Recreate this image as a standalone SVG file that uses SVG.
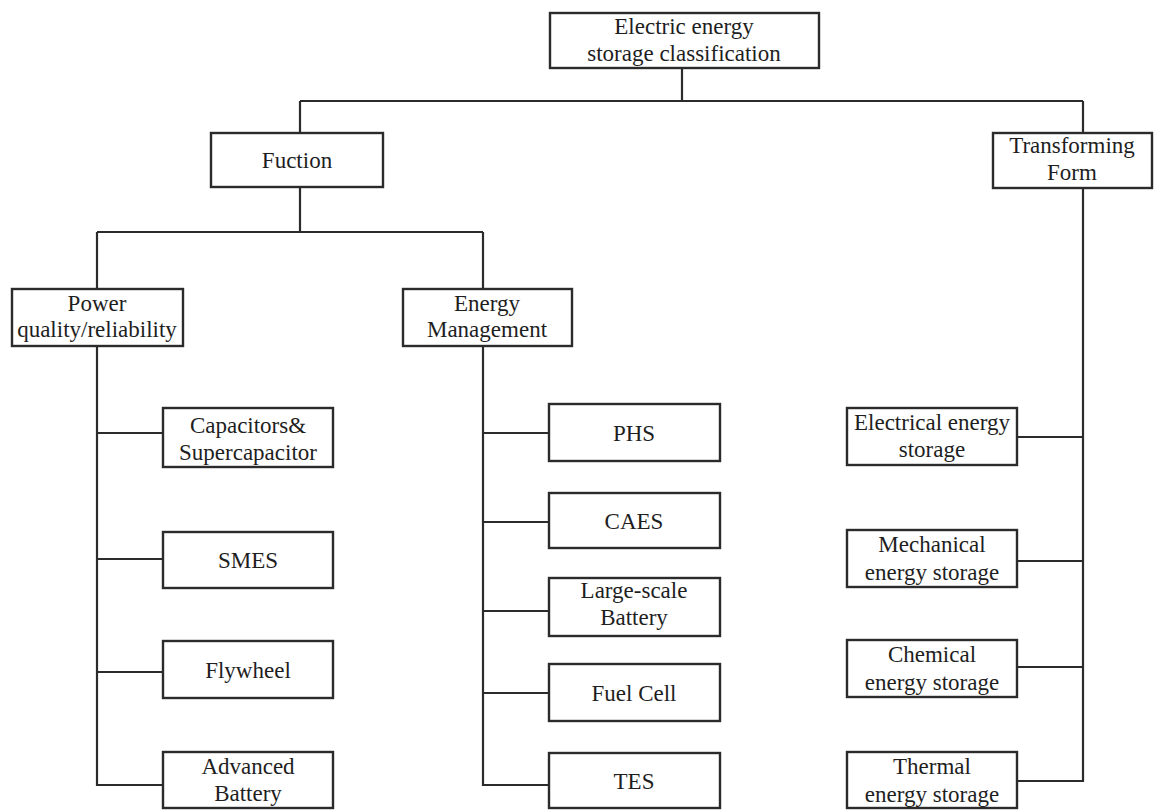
<svg xmlns="http://www.w3.org/2000/svg" width="1159" height="810" viewBox="0 0 1159 810">
<style>
rect{fill:#fff;stroke:#2b2b2b;stroke-width:2.4}
text{font-family:'Liberation Serif','DejaVu Serif',serif;font-size:23px;fill:#1e1e1e;text-anchor:middle}
.c{fill:none;stroke:#2b2b2b;stroke-width:2.2}
</style>
<rect x="0" y="0" width="1159" height="810" style="stroke:none"/>
<g id="connectors" class="c">
<path d="M682 68V101M300 101H1083M300 101V133M1083 101V133"/>
<path d="M300 187V232M97 232H483M97 232V289M483 232V289"/>
<path d="M97 346V785H163M97 433H163M97 559H163M97 672H163"/>
<path d="M483 346V785H549M483 433H549M483 522H549M483 611H549M483 693H549"/>
<path d="M1083 188V781H1017M1083 437H1017M1083 561H1017M1083 667H1017"/>
</g>
<g font-family="Liberation Serif, serif">
<g id="root"><rect x="550" y="13" width="269" height="55"/><text x="684" y="34">Electric energy</text><text x="684" y="61">storage classification</text></g>
<g id="fuction"><rect x="211" y="133" width="172" height="54"/><text x="297" y="168">Fuction</text></g>
<g id="transforming"><rect x="993" y="133" width="159" height="55"/><text x="1072" y="153">Transforming</text><text x="1072" y="180">Form</text></g>
<g id="power"><rect x="12" y="289" width="171" height="57"/><text x="97" y="311">Power</text><text x="97" y="337">quality/reliability</text></g>
<g id="energy"><rect x="403" y="289" width="169" height="57"/><text x="487" y="311">Energy</text><text x="487" y="337">Management</text></g>
<g id="capacitors"><rect x="163" y="408" width="170" height="59"/><text x="248" y="433">Capacitors&amp;</text><text x="248" y="460">Supercapacitor</text></g>
<g id="smes"><rect x="163" y="532" width="170" height="56"/><text x="248" y="568">SMES</text></g>
<g id="flywheel"><rect x="163" y="641" width="170" height="57"/><text x="248" y="678">Flywheel</text></g>
<g id="advbattery"><rect x="163" y="752" width="170" height="56"/><text x="248" y="774">Advanced</text><text x="248" y="801">Battery</text></g>
<g id="phs"><rect x="549" y="404" width="171" height="57"/><text x="634" y="441">PHS</text></g>
<g id="caes"><rect x="549" y="493" width="171" height="55"/><text x="634" y="529">CAES</text></g>
<g id="largebattery"><rect x="549" y="578" width="171" height="58"/><text x="634" y="598">Large-scale</text><text x="634" y="625">Battery</text></g>
<g id="fuelcell"><rect x="549" y="664" width="171" height="57"/><text x="634" y="701">Fuel Cell</text></g>
<g id="tes"><rect x="549" y="753" width="171" height="55"/><text x="634" y="789">TES</text></g>
<g id="electrical"><rect x="847" y="408" width="170" height="57"/><text x="932" y="430">Electrical energy</text><text x="932" y="457">storage</text></g>
<g id="mechanical"><rect x="847" y="530" width="170" height="57"/><text x="932" y="552">Mechanical</text><text x="932" y="580">energy storage</text></g>
<g id="chemical"><rect x="847" y="640" width="170" height="57"/><text x="932" y="662">Chemical</text><text x="932" y="690">energy storage</text></g>
<g id="thermal"><rect x="847" y="752" width="170" height="56"/><text x="932" y="774">Thermal</text><text x="932" y="802">energy storage</text></g>
</g>
</svg>
